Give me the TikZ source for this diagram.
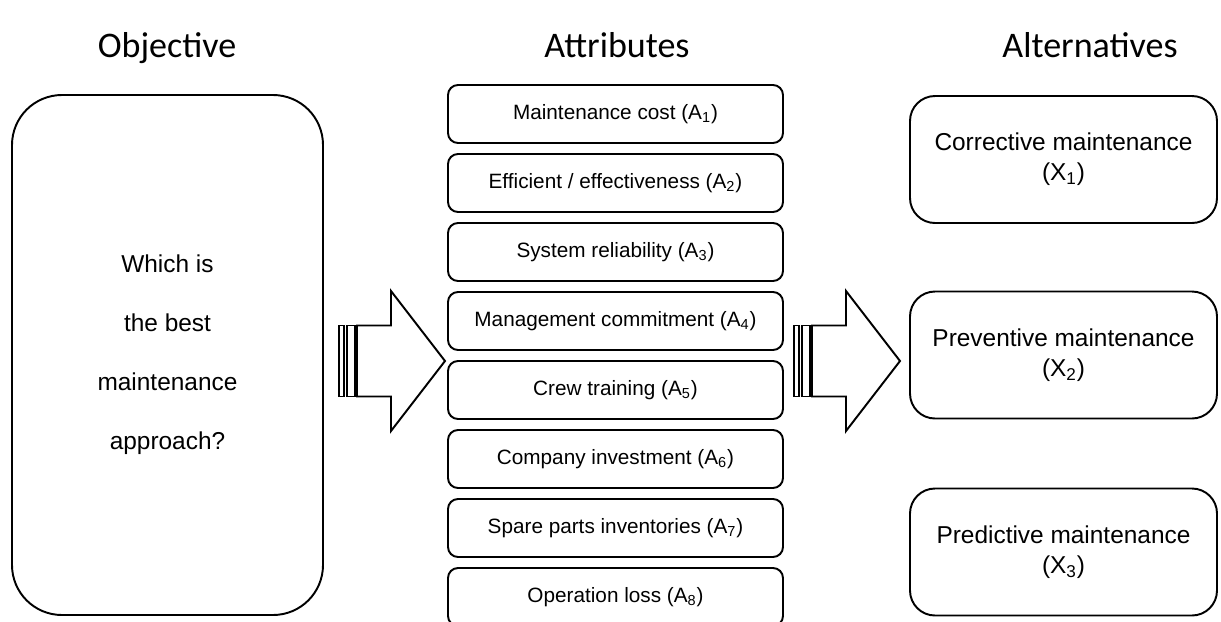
\documentclass[tikz,border=0pt]{standalone}
\usepackage{fontspec}
\setmainfont{Liberation Sans}
\newfontfamily\headfont{Carlito}

\begin{document}
\begin{tikzpicture}[x=0.2mm, y=-0.2mm, line width=1.1pt]

    \tikzset{block/.style={%
      draw,%
      rectangle,%
      rounded corners=0.2cm,%
      minimum width=6.7cm,%
      minimum height=1.16cm,%
      inner sep=0pt,%
      font=\fontsize{11.8}{14}\selectfont}%
    };

    \tikzset{bigblock/.style={block, rounded corners=0.5cm, minimum width=6.14cm,
      minimum height=2.54cm, align=center, font=\fontsize{13.9}{17}\selectfont}};
    \tikzset{goalblock/.style={block, rounded corners=1cm, minimum width=6.22cm,
      minimum height=10.4cm, align=center, font=\fontsize{13.9}{33.6}\selectfont}};
    \tikzset{heading/.style={anchor=base, font=\headfont\fontsize{20.5}{24}\selectfont}};
    \tikzset{stripe/.style={draw, line join=miter}};

    \useasboundingbox (0,0) rectangle (1221,621);
    \clip (0,0) rectangle (1221,621);

    %%%%%%%%%%%%%%%
    %  headings   %
    %%%%%%%%%%%%%%%
    \node [heading] (hobj) at (167,57) {Objective};
    \node [heading] (hatt) at (617,57) {Attributes};
    \node [heading] (halt) at (1090,57) {Alternatives};

    %%%%%%%%%%%%%%%
    %  objective  %
    %%%%%%%%%%%%%%%
    \node [goalblock] (obj) at (167.5,355) {Which is\\the best\\maintenance\\approach?};

    %%%%%%%%%%%%%%%
    %  attributes %
    %%%%%%%%%%%%%%%
    \node [block] (att1) at (615.5,114) {Maintenance cost (A\textsubscript{1})};
    \node [block] (att2) at (615.5,183) {Efficient / effectiveness (A\textsubscript{2})};
    \node [block] (att3) at (615.5,252) {System reliability (A\textsubscript{3})};
    \node [block] (att4) at (615.5,321) {Management commitment (A\textsubscript{4})};
    \node [block] (att5) at (615.5,390) {Crew training (A\textsubscript{5})};
    \node [block] (att6) at (615.5,459) {Company investment (A\textsubscript{6})};
    \node [block] (att7) at (615.5,528) {Spare parts inventories (A\textsubscript{7})};
    \node [block] (att8) at (615.5,597) {Operation loss (A\textsubscript{8})};

    %%%%%%%%%%%%%%%%
    % alternatives %
    %%%%%%%%%%%%%%%%
    \node [bigblock] (alt1) at (1063.5,159.5) {Corrective maintenance\\(X\textsubscript{1})};
    \node [bigblock] (alt2) at (1063.5,355) {Preventive maintenance\\(X\textsubscript{2})};
    \node [bigblock] (alt3) at (1063.5,552) {Predictive maintenance\\(X\textsubscript{3})};

    %%%%%%%%%%%%%%%
    %  arrows     %
    %%%%%%%%%%%%%%%
    \coordinate (arrA) at (339,361);
    \coordinate (arrB) at (794,361);

    \draw [stripe] (arrA) ++(0,-35.5) rectangle ++(5,71);
    \draw [stripe] (arrA) ++(8,-35.5) rectangle ++(8,71);
    \draw [stripe] (arrA) ++(18,-35.5) -- ++(34,0) -- ++(0,-34.5) -- ++(54,70)
      -- ++(-54,70) -- ++(0,-34.5) -- ++(-34,0) -- cycle;

    \draw [stripe] (arrB) ++(0,-35.5) rectangle ++(5,71);
    \draw [stripe] (arrB) ++(8,-35.5) rectangle ++(8,71);
    \draw [stripe] (arrB) ++(18,-35.5) -- ++(34,0) -- ++(0,-34.5) -- ++(54,70)
      -- ++(-54,70) -- ++(0,-34.5) -- ++(-34,0) -- cycle;

  \end{tikzpicture}
\end{document}
